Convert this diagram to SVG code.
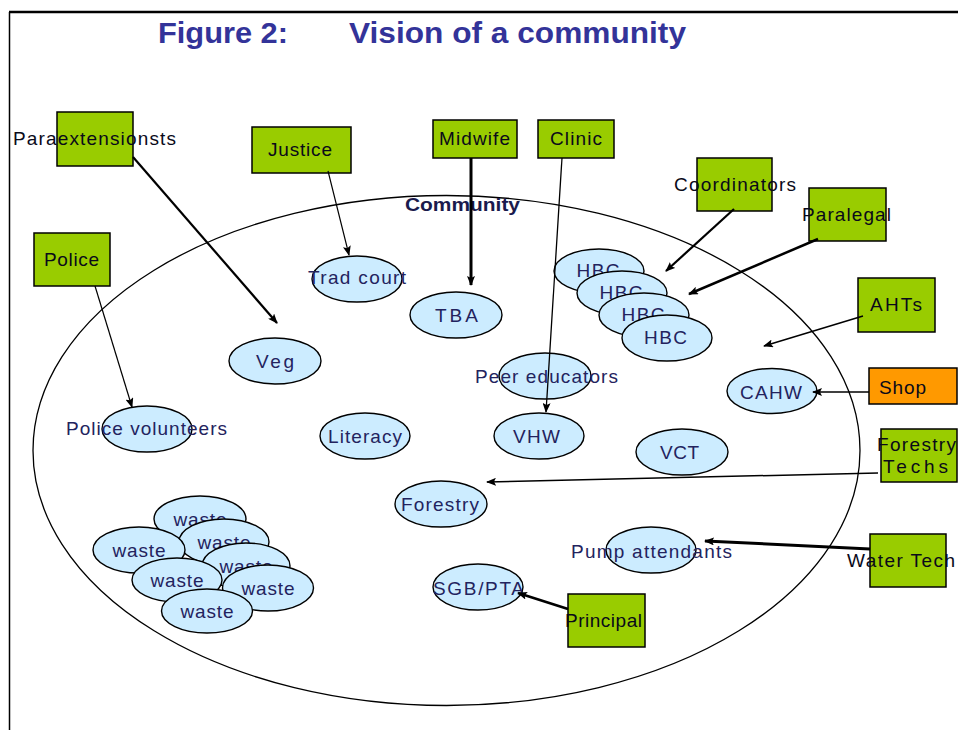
<svg xmlns="http://www.w3.org/2000/svg" width="958" height="730" viewBox="0 0 958 730">
<style>
  text { font-family: "Liberation Sans", Arial, sans-serif; }
  .title { font-size: 30px; font-weight: bold; fill: #333399; }
  .box { fill: #99CC00; stroke: #000; stroke-width: 1.5; }
  .shop { fill: #FF9900; stroke: #000; stroke-width: 1.5; }
  .ell { fill: #CCECFF; stroke: #000; stroke-width: 1.4; }
  .bl { font-size: 19px; fill: #0a0a1a; text-anchor: middle; }
  .el { font-size: 19px; fill: #23235e; text-anchor: middle; }
  .con { stroke: #000; fill: none; marker-end: url(#ah); }
</style>
<defs>
  <marker id="ah" viewBox="0 0 10 8" refX="9" refY="4" markerWidth="10" markerHeight="8" markerUnits="userSpaceOnUse" orient="auto">
    <path d="M0,0 L10,4 L0,8 L2,4 z" fill="#000"/>
  </marker>
</defs>
<rect width="958" height="730" fill="#fff"/>
<g id="frame" stroke="#000" fill="none">
  <line x1="9" y1="12" x2="958" y2="12" stroke-width="2.5"/>
  <line x1="9.5" y1="12" x2="9.5" y2="730" stroke-width="1.5"/>
</g>
<g id="title">
  <text class="title" x="158" y="43" textLength="130" lengthAdjust="spacingAndGlyphs">Figure 2:</text>
  <text class="title" x="349" y="43" textLength="337" lengthAdjust="spacingAndGlyphs">Vision of a community</text>
</g>
<g id="community">
  <ellipse cx="446.5" cy="450.5" rx="413.5" ry="255" fill="none" stroke="#000" stroke-width="1.3"/>
  <text x="462.5" y="211" font-size="19" font-weight="bold" fill="#1a1a4d" text-anchor="middle" textLength="115" lengthAdjust="spacingAndGlyphs">Community</text>
</g>

<g id="n-tradcourt"><ellipse class="ell" cx="357" cy="279" rx="45" ry="23"/><text class="el" x="357" y="284" textLength="98">Trad court</text></g>
<g id="n-tba"><ellipse class="ell" cx="456" cy="315" rx="46" ry="23"/><text class="el" x="456.5" y="322" textLength="43">TBA</text></g>
<g id="n-hbc1"><ellipse class="ell" cx="599" cy="271" rx="45" ry="22"/><text class="el" x="598" y="277" textLength="43">HBC</text></g>
<g id="n-hbc2"><ellipse class="ell" cx="622" cy="293" rx="45" ry="22"/><text class="el" x="621" y="299" textLength="43">HBC</text></g>
<g id="n-hbc3"><ellipse class="ell" cx="644" cy="315" rx="45" ry="22"/><text class="el" x="643" y="321" textLength="43">HBC</text></g>
<g id="n-hbc4"><ellipse class="ell" cx="667" cy="338" rx="45" ry="23"/><text class="el" x="665.5" y="344" textLength="43">HBC</text></g>
<g id="n-veg"><ellipse class="ell" cx="275" cy="361" rx="46" ry="23"/><text class="el" x="275" y="368" textLength="38">Veg</text></g>
<g id="n-policevol"><ellipse class="ell" cx="147" cy="429" rx="45" ry="23"/><text class="el" x="146.5" y="435" textLength="161">Police volunteers</text></g>
<g id="n-literacy"><ellipse class="ell" cx="365" cy="436" rx="45" ry="23"/><text class="el" x="365" y="443" textLength="74">Literacy</text></g>
<g id="n-forestry"><ellipse class="ell" cx="441" cy="504" rx="46" ry="23"/><text class="el" x="440" y="511" textLength="78">Forestry</text></g>
<g id="n-peer"><ellipse class="ell" cx="545" cy="376" rx="46" ry="23"/><text class="el" x="546.5" y="383" textLength="143">Peer educators</text></g>
<g id="n-vhw"><ellipse class="ell" cx="539" cy="436" rx="45" ry="23"/><text class="el" x="536.5" y="443" textLength="47">VHW</text></g>
<g id="n-vct"><ellipse class="ell" cx="682" cy="452" rx="46" ry="23"/><text class="el" x="679.5" y="459" textLength="39">VCT</text></g>
<g id="n-cahw"><ellipse class="ell" cx="772" cy="391" rx="45" ry="22.5"/><text class="el" x="771" y="399" textLength="62">CAHW</text></g>
<g id="n-pump"><ellipse class="ell" cx="651" cy="550" rx="45" ry="23"/><text class="el" x="651.5" y="558" textLength="161">Pump attendants</text></g>
<g id="n-sgb"><ellipse class="ell" cx="478" cy="587" rx="45" ry="23"/><text class="el" x="478.5" y="595" textLength="91">SGB/PTA</text></g>

<g id="n-waste1"><ellipse class="ell" cx="200" cy="519" rx="46" ry="23"/><text class="el" x="200" y="526" textLength="53">waste</text></g>
<g id="n-waste2"><ellipse class="ell" cx="224" cy="542" rx="45" ry="23"/><text class="el" x="224" y="549" textLength="53">waste</text></g>
<g id="n-waste3"><ellipse class="ell" cx="246" cy="566" rx="44" ry="23"/><text class="el" x="246" y="573" textLength="53">waste</text></g>
<g id="n-waste4"><ellipse class="ell" cx="139" cy="550" rx="46" ry="23"/><text class="el" x="139" y="557" textLength="53">waste</text></g>
<g id="n-waste5"><ellipse class="ell" cx="177" cy="580" rx="45" ry="22"/><text class="el" x="177" y="587" textLength="53">waste</text></g>
<g id="n-waste6"><ellipse class="ell" cx="268" cy="588" rx="45.5" ry="23"/><text class="el" x="268" y="595" textLength="53">waste</text></g>
<g id="n-waste7"><ellipse class="ell" cx="207" cy="611" rx="45.5" ry="22"/><text class="el" x="207" y="618" textLength="53">waste</text></g>

<g id="n-paraext"><rect class="box" x="57" y="112" width="76" height="54"/><text class="bl" x="94.5" y="145" textLength="163">Paraextensionsts</text></g>
<g id="n-justice"><rect class="box" x="252" y="127" width="99" height="46"/><text class="bl" x="300" y="156" textLength="64">Justice</text></g>
<g id="n-police"><rect class="box" x="34" y="233" width="76" height="53"/><text class="bl" x="71.5" y="266" textLength="55">Police</text></g>
<g id="n-midwife"><rect class="box" x="433" y="120" width="84" height="38"/><text class="bl" x="474.5" y="145" textLength="71">Midwife</text></g>
<g id="n-clinic"><rect class="box" x="538" y="120" width="76" height="38"/><text class="bl" x="576" y="145" textLength="52">Clinic</text></g>
<g id="n-coord"><rect class="box" x="697" y="158" width="75" height="53"/><text class="bl" x="735" y="191" textLength="122">Coordinators</text></g>
<g id="n-paralegal"><rect class="box" x="809" y="188" width="77" height="53"/><text class="bl" x="846.5" y="221" textLength="89">Paralegal</text></g>
<g id="n-ahts"><rect class="box" x="858" y="278" width="77" height="54"/><text class="bl" x="896" y="311" textLength="52">AHTs</text></g>
<g id="n-shop"><rect class="shop" x="869" y="368" width="88" height="36"/><text class="bl" x="902.5" y="394" textLength="47">Shop</text></g>
<g id="n-foresttech"><rect class="box" x="881" y="429" width="76" height="53"/><text class="bl" x="916.5" y="451" textLength="79">Forestry</text><text class="bl" x="915.5" y="473" textLength="65">Techs</text></g>
<g id="n-watertech"><rect class="box" x="870" y="534" width="76" height="53"/><text class="bl" x="901" y="567" textLength="108">Water Tech</text></g>
<g id="n-principal"><rect class="box" x="568" y="594" width="77" height="53"/><text class="bl" x="603.5" y="627" textLength="77">Principal</text></g>

<g id="connectors">
  <line class="con" x1="133" y1="157" x2="277" y2="323" stroke-width="2.2"/>
  <line class="con" x1="328" y1="171" x2="349" y2="255" stroke-width="1.2"/>
  <line class="con" x1="95" y1="286" x2="132" y2="407" stroke-width="1.2"/>
  <line class="con" x1="471" y1="158" x2="471" y2="285" stroke-width="3"/>
  <line class="con" x1="562" y1="158" x2="546" y2="412" stroke-width="1.3"/>
  <line class="con" x1="734" y1="209" x2="666" y2="271" stroke-width="2.2"/>
  <line class="con" x1="818" y1="239" x2="689" y2="294" stroke-width="2.5"/>
  <line class="con" x1="863" y1="316" x2="764" y2="346" stroke-width="1.5"/>
  <line class="con" x1="869" y1="392" x2="813" y2="392" stroke-width="1.3"/>
  <line class="con" x1="878" y1="473" x2="487" y2="482" stroke-width="1.5"/>
  <line class="con" x1="870" y1="549" x2="705" y2="541" stroke-width="3"/>
  <line class="con" x1="568" y1="609" x2="518" y2="593" stroke-width="2.5"/>
</g>
</svg>
